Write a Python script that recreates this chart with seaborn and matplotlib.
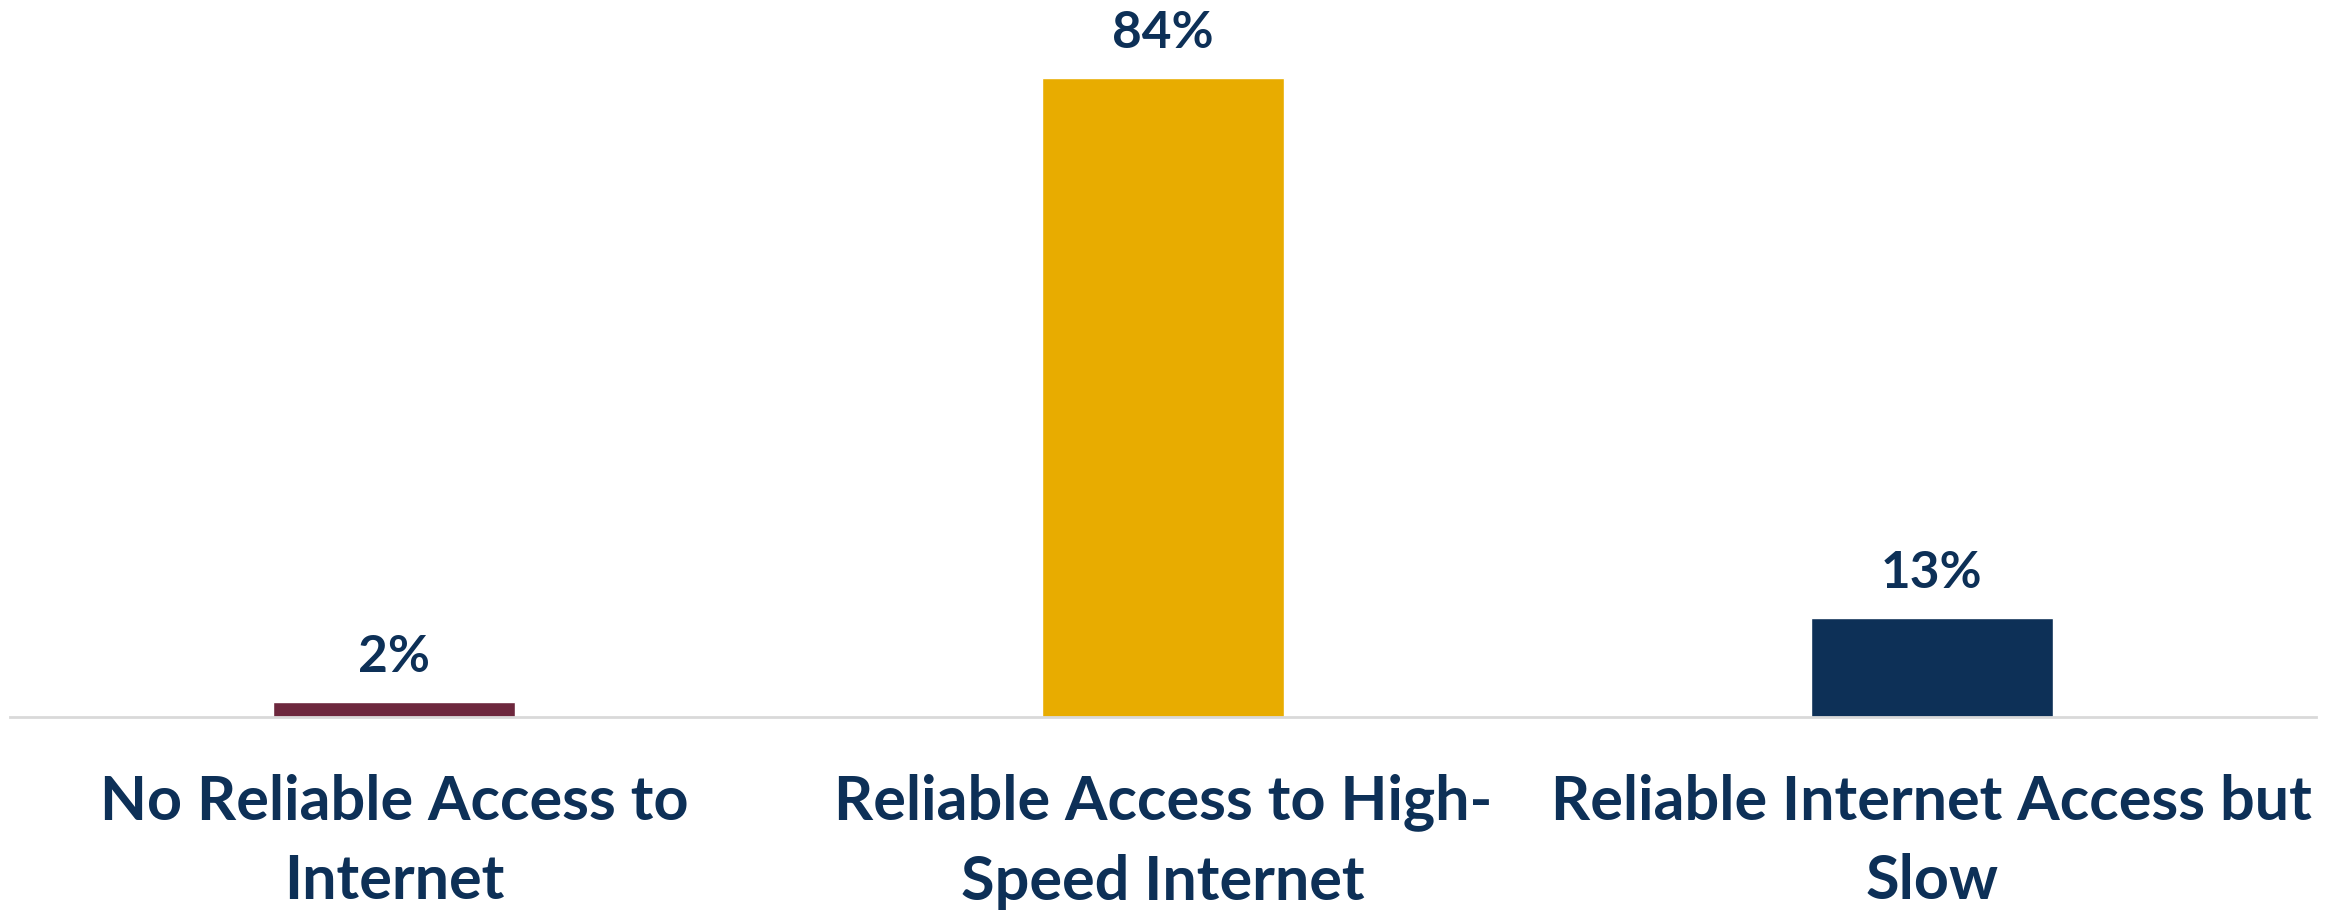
import matplotlib
matplotlib.use("Agg")
import matplotlib.pyplot as plt
import seaborn as sns
import pandas as pd

# dados do gráfico
categorias = ["No Reliable Access to\nInternet",
              "Reliable Access to High-\nSpeed Internet",
              "Reliable Internet Access but\nSlow"]
valores = [2, 84, 13]
cores = ["#6D273D", "#E8AC00", "#0D3057"]

azul_texto = "#0D3057"

df = pd.DataFrame({"categoria": categorias, "valor": valores})

sns.set_theme(style="white")
plt.rcParams["font.family"] = ["Lato", "DejaVu Sans"]

fig = plt.figure(figsize=(23.46, 9.12), dpi=100)
ax = fig.add_axes([10 / 2346, 194 / 912, 2306 / 2346, 718 / 912])

sns.barplot(data=df, x="categoria", y="valor", hue="categoria",
            palette=cores, width=0.315, saturation=1, legend=False, ax=ax)

ax.set_xlim(-0.5, 2.5)
ax.set_ylim(0, 94.4)

for cont in ax.containers:
    ax.bar_label(cont, labels=[f"{v:.0f}%" for v in cont.datavalues],
                 padding=16, fontsize=37, fontweight="bold", color=azul_texto)

sns.despine(ax=ax, left=True)
ax.spines["bottom"].set_color("#D9D9D9")
ax.spines["bottom"].set_linewidth(2)
ax.set_yticks([])
ax.set_xlabel("")
ax.set_ylabel("")
ax.tick_params(axis="x", length=0, pad=40)
for lbl in ax.get_xticklabels():
    lbl.set_fontsize(44)
    lbl.set_fontweight("bold")
    lbl.set_color(azul_texto)
    lbl.set_linespacing(1.5)

fig.savefig("out.png", dpi=100, facecolor="white")
